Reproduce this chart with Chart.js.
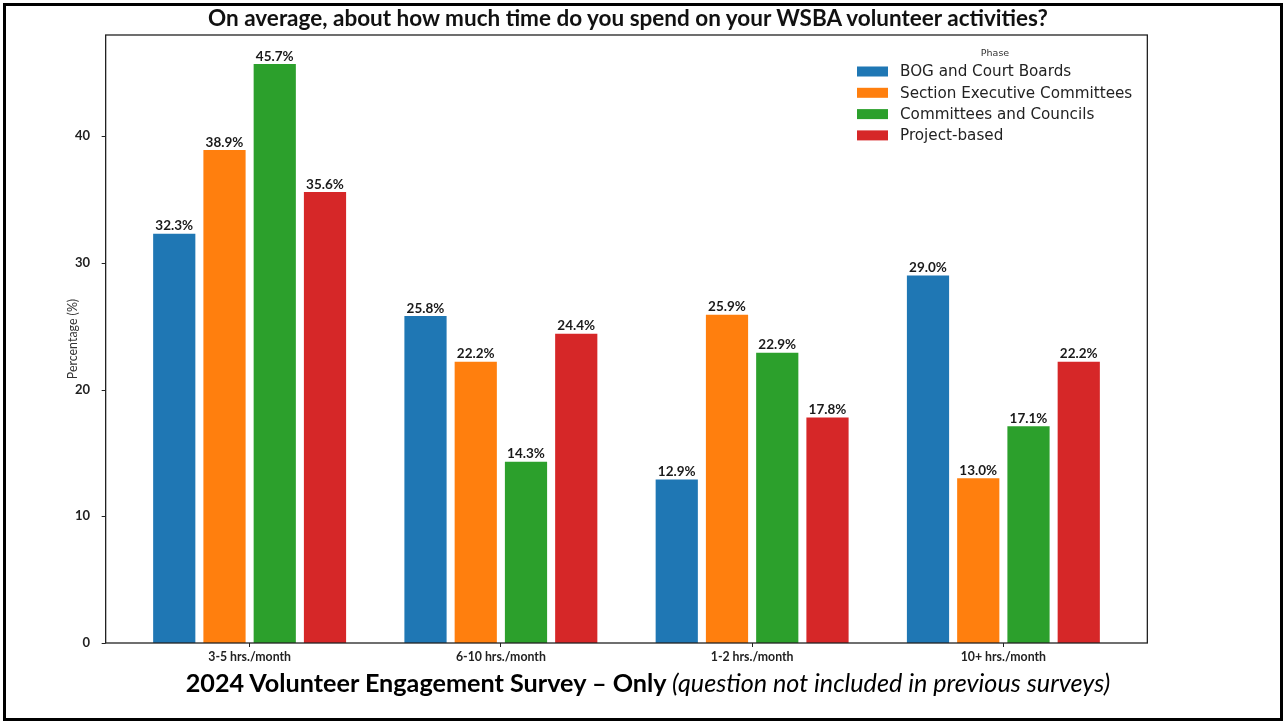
<!DOCTYPE html>
<html>
<head>
<meta charset="utf-8">
<script src="https://cdn.jsdelivr.net/npm/chart.js@4/dist/chart.umd.min.js"></script>
<style>
  html, body { margin: 0; padding: 0; background: #fff; }
  #slide {
    position: relative;
    width: 1287px;
    height: 722px;
    overflow: hidden;
  }
  #frame {
    position: absolute;
    left: 3px; top: 3px;
    width: 1274px; height: 712px;
    border: 3px solid #000;
  }
  #chartBox { position: absolute; left: 0; top: 0; width: 1287px; height: 722px; }
  #title {
    position: absolute;
    left: 0; width: 1256px; top: 4px;
    text-align: center;
    font: bold 22.5px Lato, sans-serif;
    color: #111;
  }
  #footer {
    position: absolute;
    left: 0; width: 1296px; top: 667px;
    text-align: center;
    font: bold 25.2px Lato, sans-serif;
    color: #000;
  }
  #footer i { font-weight: normal; }
</style>
</head>
<body>
<div id="slide">
  <div id="chartBox"><canvas id="timeChart" width="1287" height="722"></canvas></div>
  <div id="title">On average, about how much time do you spend on your WSBA volunteer activities?</div>
  <div id="footer">2024 Volunteer Engagement Survey – Only <i>(question not included in previous surveys)</i></div>
  <div id="frame"></div>
</div>
<script>
// ---- data ----
const categories = ['3-5 hrs./month', '6-10 hrs./month', '1-2 hrs./month', '10+ hrs./month'];
const phases = ['BOG and Court Boards', 'Section Executive Committees', 'Committees and Councils', 'Project-based'];
const bogBoards = [32.3, 25.8, 12.9, 29.0];
const sectionExec = [38.9, 22.2, 25.9, 13.0];
const committees = [45.7, 14.3, 22.9, 17.1];
const projectBased = [35.6, 24.4, 17.8, 22.2];
const yTicks = [0, 10, 20, 30, 40];
const yMax = 47.985;

const phaseColors = ['#1f77b4', '#ff7f0e', '#2ca02c', '#d62728'];
const seriesList = [bogBoards, sectionExec, committees, projectBased];

// matplotlib leaves a little margin past the outer bars
const X_MARGIN = 0.073;

// --- frame (spines) + y tick marks, drawn around the plot ---
const framePlugin = {
  id: 'framePlugin',
  afterDatasetsDraw(chart) {
    const {ctx, chartArea, scales} = chart;
    const catW = (chartArea.right - chartArea.left) / categories.length;
    const left = chartArea.left - X_MARGIN * catW;
    const right = chartArea.right + X_MARGIN * catW;
    ctx.save();
    ctx.strokeStyle = '#222';
    ctx.lineWidth = 1.3;
    ctx.strokeRect(left, chartArea.top, right - left, chartArea.bottom - chartArea.top);
    ctx.lineWidth = 1;
    yTicks.forEach(t => {
      const y = Math.round(scales.y.getPixelForValue(t)) + 0.5;
      ctx.beginPath();
      ctx.moveTo(left - 4, y);
      ctx.lineTo(left, y);
      ctx.stroke();
    });
    ctx.restore();
  }
};

// --- value labels on top of bars ---
const barLabelPlugin = {
  id: 'barLabelPlugin',
  afterDatasetsDraw(chart) {
    const ctx = chart.ctx;
    chart.data.datasets.forEach(function(dataset, i) {
      const meta = chart.getDatasetMeta(i);
      meta.data.forEach(function(bar, index) {
        const val = dataset.data[index];
        ctx.save();
        ctx.font = 'bold 13.5px Lato, sans-serif';
        ctx.fillStyle = '#1a1a1a';
        ctx.textAlign = 'center';
        ctx.textBaseline = 'bottom';
        ctx.fillText(val.toFixed(1) + '%', bar.x, bar.y - 1);
        ctx.restore();
      });
    });
  }
};

// --- legend in the upper right, matplotlib style ---
const legendPlugin = {
  id: 'legendPlugin',
  afterDraw(chart) {
    const ctx = chart.ctx;
    const x0 = 857, y0 = 71.5, rowH = 21.3;
    ctx.save();
    ctx.fillStyle = '#333';
    ctx.font = '9.5px "DejaVu Sans", sans-serif';
    ctx.textAlign = 'center';
    ctx.textBaseline = 'middle';
    ctx.fillText('Phase', 995, 54);
    ctx.font = '15.2px "DejaVu Sans", sans-serif';
    ctx.textAlign = 'left';
    chart.data.datasets.forEach((ds, i) => {
      const y = y0 + i * rowH;
      ctx.fillStyle = ds.backgroundColor;
      ctx.fillRect(x0, y - 5, 31, 10);
      ctx.fillStyle = '#222';
      ctx.fillText(ds.label, x0 + 43, y + 1);
    });
    ctx.restore();
  }
};

const ctx = document.getElementById('timeChart').getContext('2d');
new Chart(ctx, {
  type: 'bar',
  data: {
    labels: categories,
    datasets: phases.map((name, i) => ({
      label: name,
      data: seriesList[i],
      backgroundColor: phaseColors[i],
      borderWidth: 0,
      categoryPercentage: 0.8,
      barPercentage: 0.84
    }))
  },
  options: {
    responsive: false,
    animation: false,
    layout: { padding: { left: 62, right: 158, top: 35, bottom: 0 } },
    plugins: {
      legend: { display: false },
      tooltip: { enabled: false },
      title: { display: false }
    },
    scales: {
      x: {
        afterFit(scale) { scale.height = 79; },
        grid: { offset: false, drawOnChartArea: false, tickLength: 4, color: '#222' },
        border: { display: false },
        ticks: {
          padding: 3,
          color: '#222',
          font: { family: 'Lato, sans-serif', weight: 'bold', size: 12.3 }
        }
      },
      y: {
        min: 0,
        max: yMax,
        afterFit(scale) { scale.width = 62; },
        afterBuildTicks(scale) { scale.ticks = yTicks.map(v => ({ value: v })); },
        grid: { display: false },
        border: { display: false },
        ticks: {
          padding: 26,
          color: '#222',
          font: { family: 'Lato, sans-serif', weight: 'bold', size: 13 }
        },
        title: {
          display: true,
          text: 'Percentage (%)',
          color: '#333',
          font: { family: 'Lato, sans-serif', size: 12.4 }
        }
      }
    }
  },
  plugins: [framePlugin, barLabelPlugin, legendPlugin]
});
</script>
</body>
</html>
